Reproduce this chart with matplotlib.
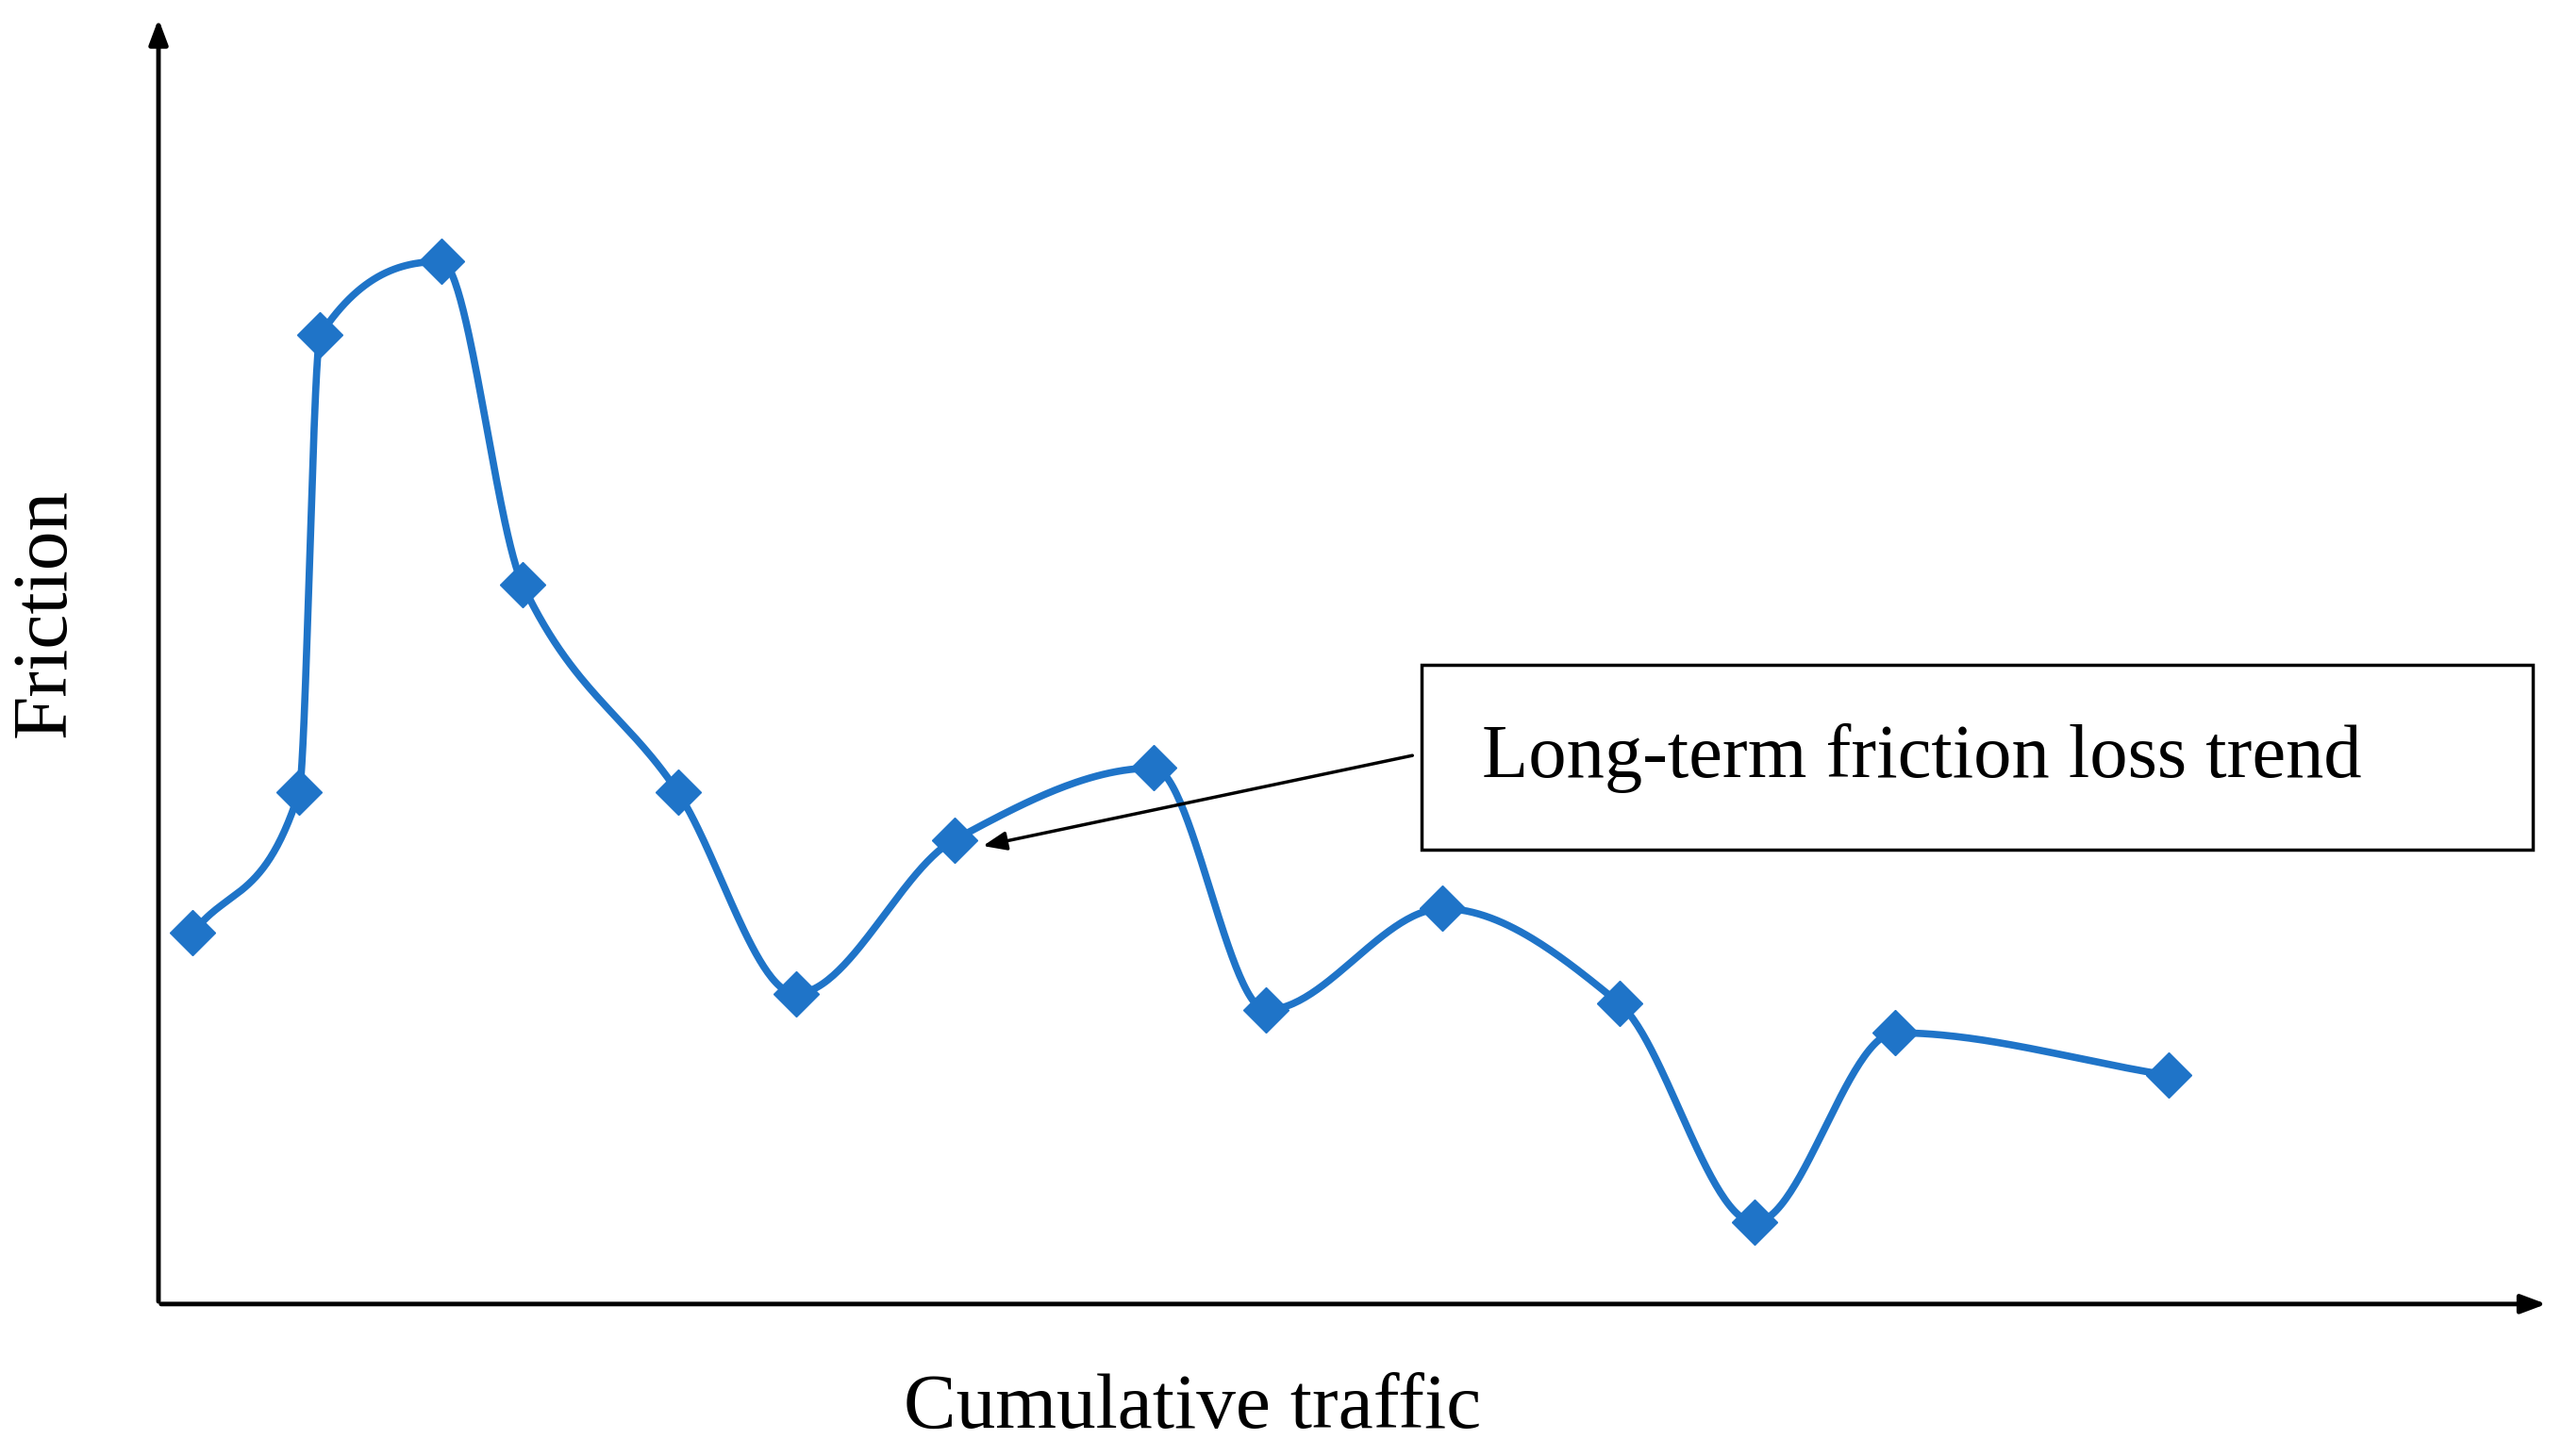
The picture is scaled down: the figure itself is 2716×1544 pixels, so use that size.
import numpy as np
import matplotlib
matplotlib.use("Agg")
import matplotlib.pyplot as plt
from matplotlib.patches import Rectangle

traffic = [21, 86, 99, 173, 223, 318, 390, 487, 609, 678, 786, 894, 977, 1063, 1230]
friction = [227, 313, 593, 638, 440, 313, 190, 284, 328, 180, 242, 184, 50, 166, 140]

def pchip(x, y, n=60):
    x = np.asarray(x, float); y = np.asarray(y, float)
    h = np.diff(x); d = np.diff(y) / h
    m = np.zeros_like(y)
    for k in range(1, len(x) - 1):
        if d[k-1] * d[k] > 0:
            w1 = 2*h[k] + h[k-1]; w2 = h[k] + 2*h[k-1]
            m[k] = (w1 + w2) / (w1/d[k-1] + w2/d[k])
    m[0] = d[0]; m[-1] = d[-1]
    xs, ys = [], []
    for k in range(len(x) - 1):
        t = np.linspace(0, 1, n)
        h00 = 2*t**3 - 3*t**2 + 1; h10 = t**3 - 2*t**2 + t
        h01 = -2*t**3 + 3*t**2; h11 = t**3 - t**2
        xs.append(x[k] + t*h[k])
        ys.append(h00*y[k] + h10*h[k]*m[k] + h01*y[k+1] + h11*h[k]*m[k+1])
    return np.concatenate(xs), np.concatenate(ys)

fig = plt.figure(figsize=(27.16, 15.44), dpi=100)
ax = fig.add_axes([0, 0, 1, 1])
ax.set_xlim(-97, 1568 - 97)
ax.set_ylim(798 - 891, 798)
ax.axis("off")

blue = "#1f74c8"
sx, sy = pchip(traffic, friction)
ax.plot(sx, sy, color=blue, lw=5.5, zorder=2)
ax.plot(traffic, friction, "D", color=blue, markersize=24, zorder=3)

ax.annotate("", xy=(1463, 0), xytext=(0, 0),
            arrowprops=dict(arrowstyle="-|>,head_length=1.6,head_width=0.6", color="black", lw=3.5))
ax.annotate("", xy=(0, 788), xytext=(0, 0),
            arrowprops=dict(arrowstyle="-|>,head_length=1.6,head_width=0.6", color="black", lw=3.5))

serif = ["Liberation Serif", "DejaVu Serif"]
ax.text(-69, 423, "Friction", rotation=90, ha="center", va="center", fontsize=60, family=serif)
ax.text(633, -64, "Cumulative traffic", ha="center", va="center", fontsize=60, family=serif)

ax.add_patch(Rectangle((773, 278), 680, 113, fc="white", ec="black", lw=2.5, zorder=4))
ax.text(810, 334, "Long-term friction loss trend", ha="left", va="center", fontsize=58,
        family=serif, zorder=5)
ax.annotate("", xy=(503, 280), xytext=(769, 336),
            arrowprops=dict(arrowstyle="-|>,head_length=1.5,head_width=0.6", color="black", lw=2.5))

fig.savefig("out.png", dpi=100)
